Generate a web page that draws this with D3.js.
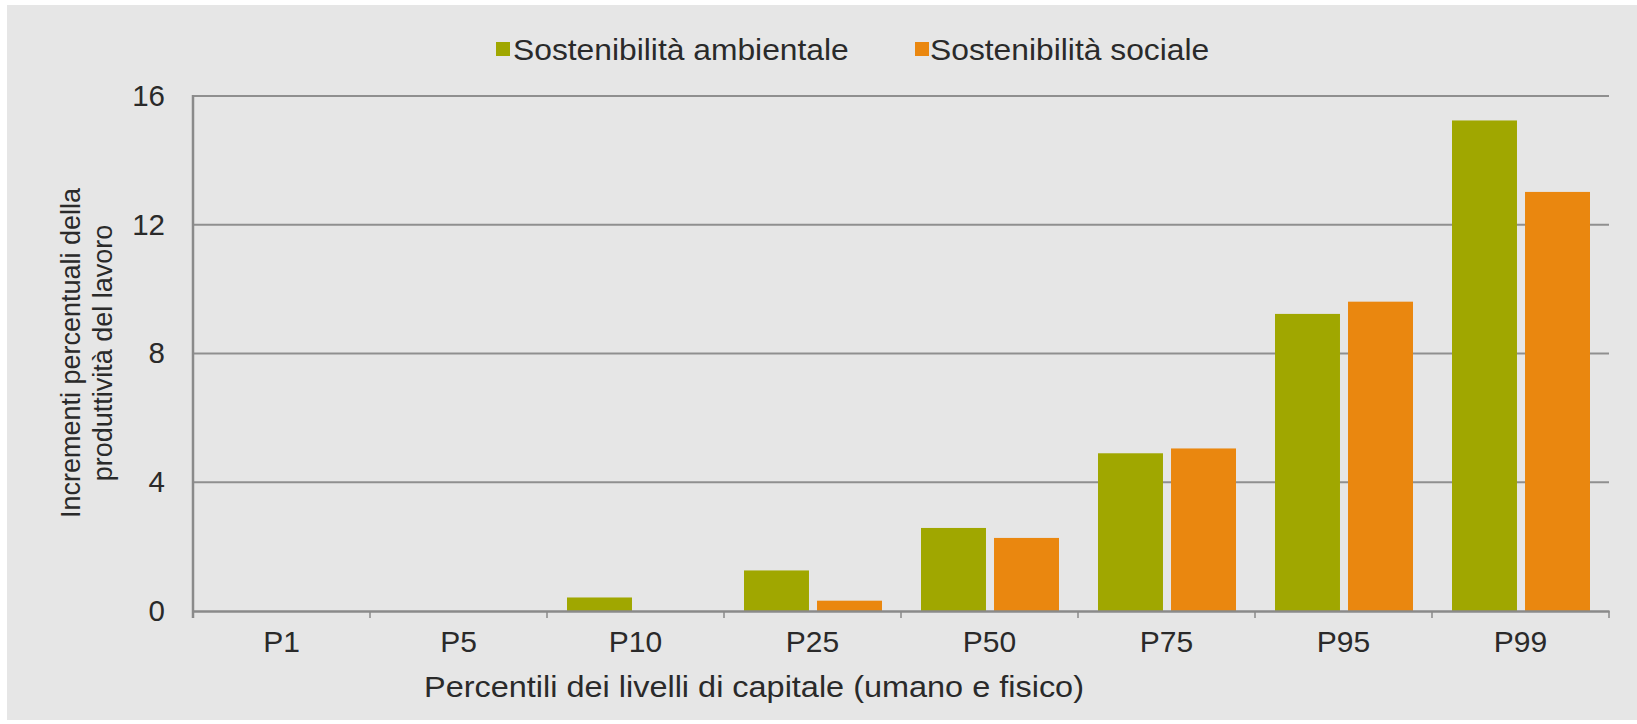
<!DOCTYPE html>
<html>
<head>
<meta charset="utf-8">
<script src="https://cdn.jsdelivr.net/npm/d3@7"></script>
<style>
  html, body { margin: 0; padding: 0; background: #ffffff; }
  svg { display: block; }
  text { font-family: "Liberation Sans", Arial, sans-serif; fill: #2a2a2a; }
</style>
</head>
<body>
<svg id="chart" width="1637" height="724"></svg>
<script>
// ---- Data ----
const categories = ["P1", "P5", "P10", "P25", "P50", "P75", "P95", "P99"];
const seriesNames = ["Sostenibilità ambientale", "Sostenibilità sociale"];
const ambientale = [0, 0, 0.42, 1.26, 2.58, 4.9, 9.23, 15.24];
const sociale = [0, 0, 0, 0.32, 2.27, 5.05, 9.61, 13.02];
const yTicks = [0, 4, 8, 12, 16];
const seriesColors = ["#a0a700", "#ea870f"];
const yTitleLines = ["Incrementi percentuali della", "produttività del lavoro"];
const xTitle = "Percentili dei livelli di capitale (umano e fisico)";

const seriesValues = [ambientale, sociale];

// ---- Layout ----
const svg = d3.select("#chart");
const W = 1637, H = 724;
const mLeft = 193, mRight = 1609, mTop = 96, mBottom = 611;

svg.append("rect").attr("x", 7).attr("y", 5).attr("width", W - 7).attr("height", 715)
  .attr("fill", "#e6e6e6");

const x0 = d3.scaleBand().domain(categories).range([mLeft, mRight]).paddingInner(0).paddingOuter(0);
const x1 = d3.scaleBand().domain(seriesNames).range([20, x0.bandwidth() - 19]).paddingInner(0.11);
const y = d3.scaleLinear().domain([0, 16]).range([mBottom, mTop]);

// gridlines
svg.append("g").selectAll("line").data(yTicks.filter(d => d > 0)).join("line")
  .attr("x1", mLeft).attr("x2", mRight)
  .attr("y1", d => y(d)).attr("y2", d => y(d))
  .attr("stroke", "#8f8f8f").attr("stroke-width", 2);

// bars
const groups = svg.append("g").selectAll("g").data(categories).join("g")
  .attr("transform", d => `translate(${x0(d)},0)`);
groups.selectAll("rect")
  .data((c, i) => seriesNames.map((s, k) => ({ s, k, v: seriesValues[k][i] })))
  .join("rect")
  .attr("x", d => x1(d.s))
  .attr("width", x1.bandwidth())
  .attr("y", d => y(d.v))
  .attr("height", d => y(0) - y(d.v))
  .attr("fill", d => seriesColors[d.k]);

// x axis (line + ticks at band boundaries)
const xAxis = d3.axisBottom(x0).tickSize(0).tickPadding(20);
const gx = svg.append("g").attr("transform", `translate(0,${mBottom})`).call(xAxis);
gx.select(".domain").attr("stroke", "#8a8a8a").attr("stroke-width", 2.5);
gx.selectAll(".tick text").attr("font-size", 30).attr("fill", "#2a2a2a")
  .attr("font-family", "'Liberation Sans', Arial, sans-serif").attr("dy", "0.71em");
const bounds = categories.map(c => x0(c)).concat([mRight]);
svg.append("g").selectAll("line").data(bounds).join("line")
  .attr("x1", d => d).attr("x2", d => d).attr("y1", mBottom).attr("y2", mBottom + 7)
  .attr("stroke", "#8a8a8a").attr("stroke-width", 1.5);

// y axis
const yAxis = d3.axisLeft(y).tickValues(yTicks).tickSize(0).tickPadding(28);
const gy = svg.append("g").attr("transform", `translate(${mLeft},0)`).call(yAxis);
gy.select(".domain").remove();
gy.selectAll(".tick text").attr("font-size", 29.5).attr("fill", "#2a2a2a")
  .attr("font-family", "'Liberation Sans', Arial, sans-serif");
svg.append("line").attr("x1", mLeft).attr("x2", mLeft).attr("y1", mTop - 1).attr("y2", mBottom + 7)
  .attr("stroke", "#8a8a8a").attr("stroke-width", 2.5);

// y title
const yt = svg.append("g").attr("transform", "translate(87,353) rotate(-90)");
yt.selectAll("text").data(yTitleLines).join("text")
  .attr("x", 0).attr("y", (d, i) => (i - 0.5) * 32)
  .attr("dy", "0.35em")
  .attr("text-anchor", "middle").attr("font-size", 27).text(d => d);

// x title
svg.append("text").attr("transform", "translate(754,687) scale(1.1,1)")
  .attr("text-anchor", "middle").attr("dy", "0.35em").attr("font-size", 29.5).text(xTitle);

// legend
const legendX = [496, 915];
const lg = svg.append("g").selectAll("g").data(seriesNames).join("g")
  .attr("transform", (d, i) => `translate(${legendX[i]},49)`);
lg.append("rect").attr("x", 0).attr("y", -7).attr("width", 14).attr("height", 14)
  .attr("fill", (d, i) => seriesColors[i]);
lg.append("text").attr("transform", (d, i) => `translate(${i === 0 ? 17 : 15},0) scale(1.06,1)`)
  .attr("dy", "0.35em")
  .attr("font-size", 30).text(d => d);
</script>
</body>
</html>
